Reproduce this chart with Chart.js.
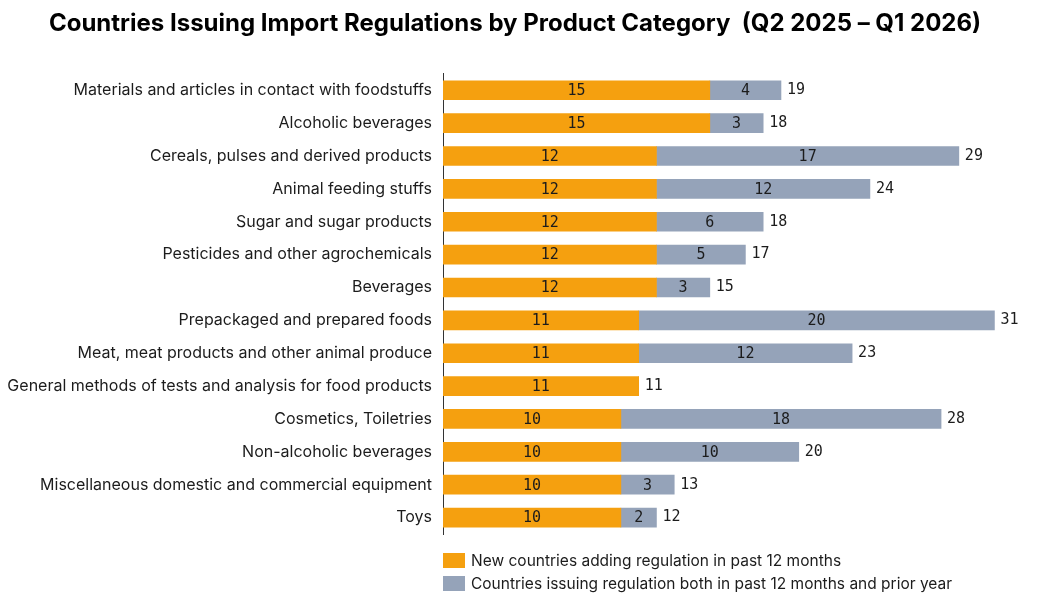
<!DOCTYPE html>
<html>
<head>
<meta charset="utf-8">
<script src="https://cdn.jsdelivr.net/npm/chart.js@4.4.1/dist/chart.umd.min.js"></script>
<style>
  html, body { margin: 0; padding: 0; background: #fff; }
  #wrap { width: 1038px; height: 605px; }
</style>
</head>
<body>
<div id="wrap"><canvas id="graphique"></canvas></div>
<script>
const categories = [
    'Materials and articles in contact with foodstuffs',
    'Alcoholic beverages',
    'Cereals, pulses and derived products',
    'Animal feeding stuffs',
    'Sugar and sugar products',
    'Pesticides and other agrochemicals',
    'Beverages',
    'Prepackaged and prepared foods',
    'Meat, meat products and other animal produce',
    'General methods of tests and analysis for food products',
    'Cosmetics, Toiletries',
    'Non-alcoholic beverages',
    'Miscellaneous domestic and commercial equipment',
    'Toys'
]
const new_countries = [15, 15, 12, 12, 12, 12, 12, 11, 11, 11, 10, 10, 10, 10]
const both_years = [4, 3, 17, 12, 6, 5, 3, 20, 12, 0, 18, 10, 3, 2]
const series_names = [
    'New countries adding regulation in past 12 months',
    'Countries issuing regulation both in past 12 months and prior year'
]

const ORANGE = '#F5A00F'
const GREY = '#95A3B9'
const TEXT = '#1c1c1c'

// valeurs dans les barres + total au bout
const labels_plugin = {
    id: 'barLabels',
    afterDatasetsDraw(chart){
        const ctx = chart.ctx
        ctx.save()
        ctx.font = '15px "DejaVu Sans Mono"'
        ctx.fillStyle = TEXT
        ctx.textBaseline = 'middle'
        chart.data.datasets.forEach((ds, i)=>{
            const meta = chart.getDatasetMeta(i)
            meta.data.forEach((bar, j)=>{
                if(!ds.data[j]) return
                ctx.textAlign = 'center'
                ctx.fillText(ds.data[j], (bar.x + bar.base) / 2, bar.y + 1)
            })
        })
        const m0 = chart.getDatasetMeta(0)
        const m1 = chart.getDatasetMeta(1)
        categories.forEach((c, j)=>{
            const total = new_countries[j] + both_years[j]
            const end = Math.max(m0.data[j].x, m1.data[j].x)
            ctx.textAlign = 'left'
            ctx.fillText(total, end + 6, m0.data[j].y)
        })
        ctx.restore()
    }
}

// legende verticale en bas
const legend_plugin = {
    id: 'legendeBas',
    afterDraw(chart){
        const ctx = chart.ctx
        const x = chart.chartArea.left
        const colors = [ORANGE, GREY]
        ctx.save()
        ctx.font = '15.5px "Inter"'
        ctx.textBaseline = 'middle'
        ctx.textAlign = 'left'
        series_names.forEach((name, i)=>{
            const y = 553 + i * 23
            ctx.fillStyle = colors[i]
            ctx.fillRect(x, y, 22, 15)
            ctx.fillStyle = TEXT
            ctx.fillText(name, x + 28, y + 8)
        })
        ctx.restore()
    }
}

const config = {
    type: 'bar',
    data: {
        labels: categories,
        datasets: [{
            label: series_names[0],
            data: new_countries,
            backgroundColor: ORANGE,
            barThickness: 19
        },{
            label: series_names[1],
            data: both_years,
            backgroundColor: GREY,
            barThickness: 19
        }]
    },
    options: {
        indexAxis: 'y',
        responsive: true,
        maintainAspectRatio: false,
        animation: false,
        layout: { padding: { left: 0, right: 8, top: 0, bottom: 71 } },
        scales: {
            x: {
                stacked: true,
                min: 0,
                max: 33,
                display: false
            },
            y: {
                stacked: true,
                grid: { display: false, drawTicks: false },
                border: { display: true, color: '#333', width: 1 },
                ticks: {
                    padding: 11,
                    color: TEXT,
                    font: { family: 'Inter', size: 16 }
                },
                afterFit(scale){ scale.width = 443 }
            }
        },
        plugins: {
            legend: { display: false },
            tooltip: { enabled: false },
            title: {
                display: true,
                text: 'Countries Issuing Import Regulations by Product Category  (Q2 2025 – Q1 2026)',
                color: '#000',
                font: { family: 'Inter', size: 24, weight: 'bold' },
                padding: { top: 9, bottom: 36 }
            }
        }
    },
    plugins: [labels_plugin, legend_plugin]
}

const chart = new Chart(document.querySelector('#graphique'), config)
</script>
</body>
</html>
